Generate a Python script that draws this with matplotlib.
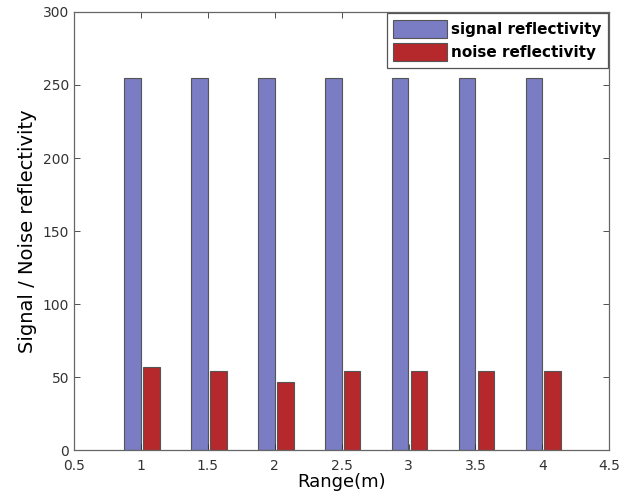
import matplotlib
matplotlib.use("Agg")
import matplotlib.pyplot as plt
import numpy as np

ranges = [1, 1.5, 2, 2.5, 3, 3.5, 4]
signal = [255, 255, 255, 255, 255, 255, 255]
noise = [57, 54, 47, 54, 54, 54, 54]

fig = plt.figure(figsize=(6.38, 4.98), dpi=100)
ax = fig.add_axes([0.116, 0.096, 0.839, 0.88])

x = np.array(ranges)
w = 0.125
ax.bar(x - 0.063, signal, width=w, color="#7a7cc4", edgecolor="#555555", linewidth=0.8,
       label="signal reflectivity")
ax.bar(x + 0.078, noise, width=w, color="#b5282b", edgecolor="#555555", linewidth=0.8,
       label="noise reflectivity")

ax.set_xlim(0.5, 4.5)
ax.set_ylim(0, 300)
ax.set_xticks([0.5, 1, 1.5, 2, 2.5, 3, 3.5, 4, 4.5])
ax.set_xticklabels(["0.5", "1", "1.5", "2", "2.5", "3", "3.5", "4", "4.5"])
ax.set_yticks(range(0, 301, 50))
ax.tick_params(direction="in", top=True, right=True, labelsize=10, colors="#333333",
               length=4, width=0.6)
ax.tick_params(axis="x", pad=6)
for s in ax.spines.values():
    s.set_color("#666666")
    s.set_linewidth(0.9)

ax.set_xlabel("Range(m)", fontsize=13, labelpad=0)
ax.set_ylabel("Signal / Noise reflectivity", fontsize=14)

leg = ax.legend(loc="upper right", fancybox=False, framealpha=1, edgecolor="#555555",
                prop={"weight": "bold", "size": 11}, handlelength=3.5, handleheight=1.5,
                borderaxespad=0.1, labelspacing=0.3, handletextpad=0.3)
leg.get_frame().set_linewidth(0.9)

fig.savefig("out.png", dpi=100)
plt.close(fig)
